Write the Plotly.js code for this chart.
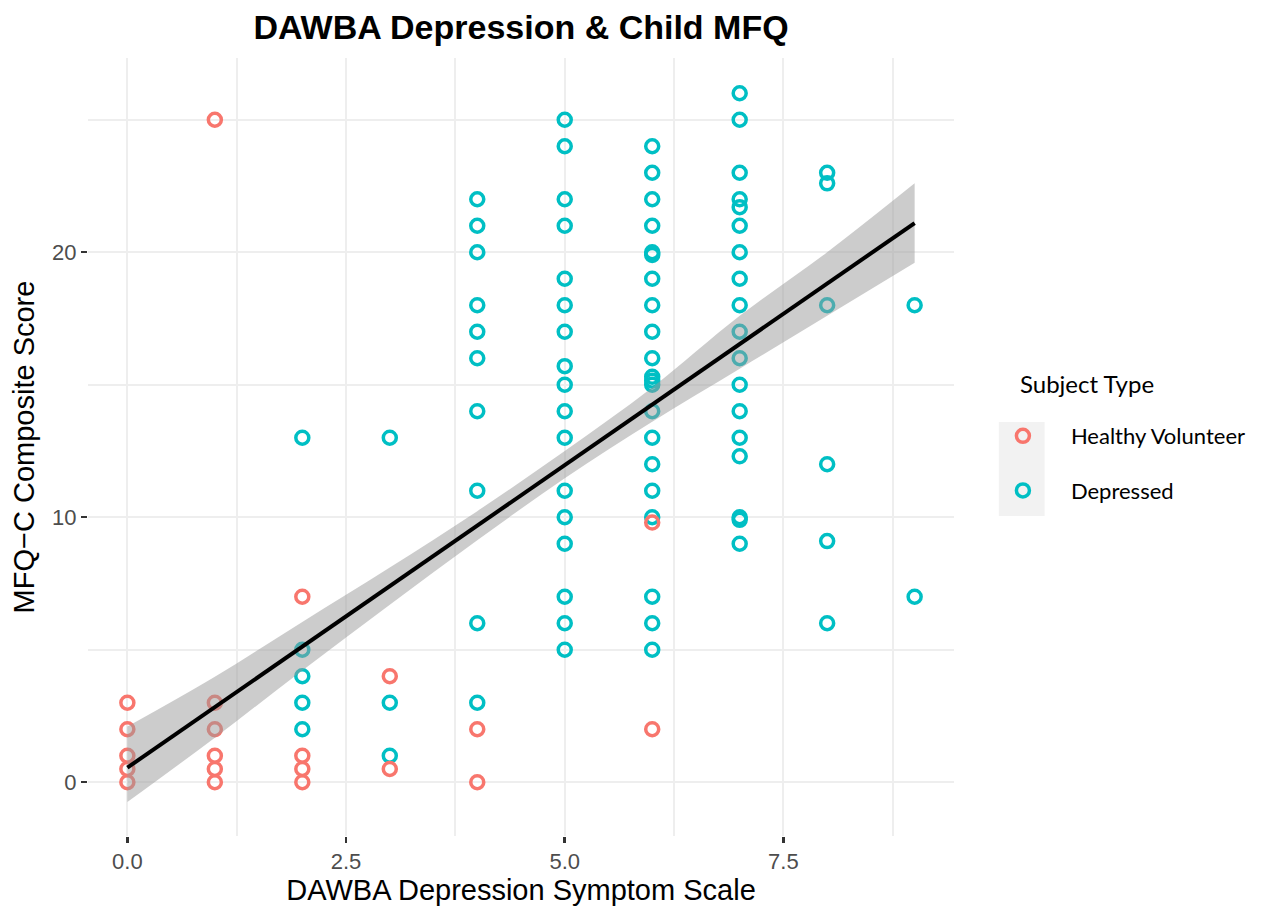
<!DOCTYPE html>
<html>
<head>
<meta charset="utf-8">
<script src="https://cdn.plot.ly/plotly-3.0.1.min.js"></script>
<style>html,body{margin:0;padding:0;background:#fff;}#chart{width:1263px;height:909px;}</style>
</head>
<body>
<div id="chart"></div>
<script>
// Healthy volunteers
const hvX = [0,0,0,0,0, 1,1,1,1,1,1, 2,2,2,2, 3,3, 4,4, 6,6];
const hvY = [3,2,1,0.5,0, 25,3,2,1,0.5,0, 7,1,0.5,0, 4,0.5, 2,0, 9.8,2];

// Depressed
const depX = [
  2,2,2,2,2,
  3,3,3,
  4,4,4,4,4,4,4,4,4,4,
  5,5,5,5,5,5,5,5,5,5,5,5,5,5,5,5,5,
  6,6,6,6,6,6,6,6,6,6,6,6,6,6,6,6,6,6,6,6,6,
  7,7,7,7,7,7,7,7,7,7,7,7,7,7,7,7,7,7,
  8,8,8,8,8,8,
  9,9
];
const depY = [
  13,5,4,3,2,
  13,3,1,
  22,21,20,18,17,16,14,11,6,3,
  25,24,22,21,19,18,17,15.7,15,14,13,11,10,9,7,6,5,
  24,23,22,21,20,19.9,19,18,17,16,15.3,15.15,15,14,13,12,11,10,7,6,5,
  26,25,23,22,21.7,21,20,19,18,17,16,15,14,13,12.3,10,9.9,9,
  23,22.6,18,12,9.1,6,
  18,7
];

// Linear smooth (geom_smooth, method = "lm")
const fitX = [0, 9];
const fitY = [0.55, 21.1];
const bandX  = [0, 1, 2, 3, 4, 5, 6, 7, 8, 9];
const bandLo = [-0.75, 1.68, 4.22, 6.7, 9.13, 11.47, 13.6, 15.6, 17.6, 19.6];
const bandHi = [2.1, 3.98, 6.05, 8.1, 10.23, 12.5, 14.9, 17.6, 20.0, 22.6];

const seriesNames = ["Healthy Volunteer", "Depressed"];
const xTickVals = [0, 2.5, 5, 7.5];
const yTickVals = [0, 10, 20];

const mk = (c)=>({symbol:'circle-open', size:13, color:c, line:{width:3.5, color:c}});
const traces = [
  {x:depX, y:depY, type:'scatter', mode:'markers', name:seriesNames[1], marker:mk('#00BFC4'),
   legendgroup:'d', legendrank:2},
  {x:hvX, y:hvY, type:'scatter', mode:'markers', name:seriesNames[0], marker:mk('#F8766D'),
   legendgroup:'h', legendrank:1},
  {x:bandX, y:bandLo, type:'scatter', mode:'lines', line:{width:0, color:'rgba(0,0,0,0)', shape:'spline'}, showlegend:false, hoverinfo:'skip'},
  {x:bandX, y:bandHi, type:'scatter', mode:'lines', line:{width:0, color:'rgba(0,0,0,0)', shape:'spline'}, fill:'tonexty',
   fillcolor:'rgba(153,153,153,0.5)', showlegend:false, hoverinfo:'skip'},
  {x:fitX, y:fitY, type:'scatter', mode:'lines', line:{width:4, color:'#000000'}, showlegend:false, hoverinfo:'skip'}
];

const gridC = '#eeeeee';
const layout = {
  width:1263, height:909,
  margin:{l:88, r:305, t:58, b:73},
  paper_bgcolor:'#ffffff', plot_bgcolor:'#ffffff',
  font:{family:'Liberation Sans, Arial, sans-serif', color:'#4d4d4d'},
  title:{text:'<b>DAWBA Depression & Child MFQ</b>', x:0.5, xref:'paper', xanchor:'center',
         y:1-27/909, yref:'container', yanchor:'middle',
         font:{family:'Liberation Sans, Arial, sans-serif', size:34, color:'#000000'}},
  xaxis:{range:[-0.45, 9.45], tickvals:xTickVals, ticktext:xTickVals.map(v=>v.toFixed(1)),
         automargin:false,
         showgrid:true, gridcolor:gridC, gridwidth:2, zeroline:false, showline:false,
         ticks:'outside', ticklen:6, tickwidth:2.5, tickcolor:'#333333',
         tickfont:{size:22, color:'#4d4d4d'},
         minor:{tickvals:[1.25,3.75,6.25,8.75], showgrid:true, gridcolor:gridC, gridwidth:2, ticks:''},
         title:{text:'DAWBA Depression Symptom Scale', standoff:4,
                font:{size:29, color:'#000000'}}},
  yaxis:{range:[-2.03, 27.33], tickvals:yTickVals, ticktext:yTickVals.map(String),
         automargin:false,
         showgrid:true, gridcolor:gridC, gridwidth:2, zeroline:false, showline:false,
         ticks:'outside', ticklen:6, tickwidth:2.5, tickcolor:'#333333',
         tickfont:{size:22, color:'#4d4d4d'},
         minor:{tickvals:[5,15,25], showgrid:true, gridcolor:gridC, gridwidth:2, ticks:''},
         title:{text:'MFQ\u2212C Composite Score', standoff:8,
                font:{size:29, color:'#000000'}}},
  showlegend:true,
  legend:{x:(979-88)/870, xanchor:'left', y:(836-463.5)/778, yanchor:'middle',
          bgcolor:'rgba(0,0,0,0)', itemwidth:86, traceorder:'grouped', tracegroupgap:23,
          font:{family:'Lato, Open Sans, sans-serif', size:22, color:'#000000'}},
  shapes:[{type:'rect', xref:'paper', yref:'paper', x0:(1003-88)/870, x1:(1049-88)/870,
           y0:(836-516)/778, y1:(836-422)/778, fillcolor:'#f2f2f2', line:{width:0}, layer:'below'}],
  annotations:[{text:'Subject Type', xref:'paper', yref:'paper', x:(1022-88)/870, y:(836-383)/778,
                xanchor:'left', yanchor:'middle', showarrow:false,
                font:{family:'Lato, Open Sans, sans-serif', size:24, color:'#000000'}}]
};

Plotly.newPlot('chart', traces, layout, {displayModeBar:false, staticPlot:true});
</script>
</body>
</html>
